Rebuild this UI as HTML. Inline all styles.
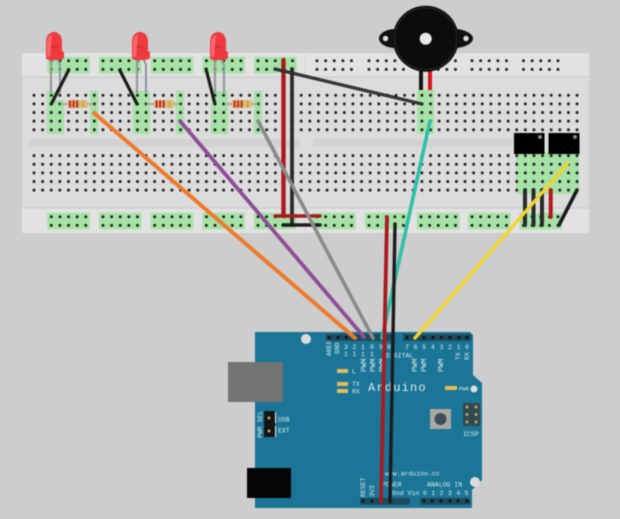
<!DOCTYPE html>
<html><head><meta charset="utf-8"><style>
html,body{margin:0;padding:0;background:#cdcdcd;width:620px;height:519px;overflow:hidden}
svg{display:block;filter:blur(.5px)}
text{font-family:"Liberation Mono",monospace;fill:#dcebf1}
</style></head><body>
<svg width="620" height="519" viewBox="0 0 620 519" xmlns="http://www.w3.org/2000/svg">
<defs>
<pattern id="h" x="29.69" y="91" width="8.62" height="8.62" patternUnits="userSpaceOnUse"><circle cx="4.31" cy="4.31" r="1.5" fill="#242424"/></pattern>
<g id="r" fill="#242424"><circle cx="0" cy="0" r="1.5"/><circle cx="8.62" cy="0" r="1.5"/><circle cx="17.24" cy="0" r="1.5"/><circle cx="25.86" cy="0" r="1.5"/><circle cx="34.48" cy="0" r="1.5"/><circle cx="0" cy="8.7" r="1.5"/><circle cx="8.62" cy="8.7" r="1.5"/><circle cx="17.24" cy="8.7" r="1.5"/><circle cx="25.86" cy="8.7" r="1.5"/><circle cx="34.48" cy="8.7" r="1.5"/></g>
<g id="rg"><rect x="-4" y="-4" width="42.5" height="16.7" fill="#a6e2a6"/><use href="#r"/></g>
<g id="led"><path d="M-3 20V60" stroke="#999" stroke-width="2.2" fill="none"/><path d="M3 25 L6 32V60" stroke="#8f9aa3" stroke-width="2.2" fill="none"/><path d="M-8 24V9C-8 2-4-1 0-1S8 2 8 9V18L10 19V24C10 27 6 27 0 27S-8 27-8 24Z" fill="#ee3a3f"/><path d="M-7 24V9C-7 5-4 2-2 2L-4 24Z" fill="#f6686c"/><text x="-3" y="15" style="font-size:4px;fill:#b52024">RED</text></g>
<g id="res"><path d="M0 0H33.5" stroke="#9aa89a" stroke-width="1.8"/><rect x="7" y="-3.7" width="21" height="7.4" rx="2.5" fill="#e0b878"/><rect x="9" y="-3.7" width="2.2" height="7.4" fill="#c8321e"/><rect x="12.5" y="-3.7" width="2.2" height="7.4" fill="#c8321e"/><rect x="16" y="-3.7" width="2.2" height="7.4" fill="#a8401e"/><rect x="22" y="-3.7" width="2.2" height="7.4" fill="#c9a94a"/></g>
</defs>

<!-- breadboard -->
<rect x="22" y="53" width="567" height="180" fill="#dcdcdc"/>
<rect x="22" y="53" width="567" height="24" fill="#e2e2e2"/>
<rect x="22" y="208" width="567" height="25" fill="#e2e2e2"/>
<path d="M22 77H589M22 208H589" stroke="#cfcfcf" stroke-width="1.5"/>
<path d="M305 53V77M305 208V233" stroke="#d4d4d4" stroke-width="1"/>
<rect x="30" y="139" width="270" height="8" rx="2" fill="#d2d2d2"/>
<rect x="313" y="139" width="200" height="8" rx="2" fill="#d2d2d2"/>

<!-- green main -->
<g fill="#a6e2a6">
<rect x="47" y="91" width="8" height="12"/><rect x="47" y="100" width="17" height="34"/><rect x="90" y="91" width="8" height="43"/>
<rect x="133" y="91" width="17" height="43"/><rect x="176" y="91" width="8" height="43"/>
<rect x="211" y="91" width="17" height="43"/><rect x="254" y="91" width="8" height="43"/>
<rect x="417" y="90" width="17" height="44"/>
<rect x="516" y="152" width="63" height="42"/>
</g>
<rect x="29.69" y="91" width="551.7" height="43.1" fill="url(#h)"/>
<rect x="29.69" y="151.3" width="551.7" height="43.1" fill="url(#h)"/>

<!-- rails -->
<use href="#rg" x="51.3" y="60.7"/><use href="#rg" x="103" y="60.7"/><use href="#rg" x="154.7" y="60.7"/><use href="#rg" x="206.4" y="60.7"/><use href="#rg" x="258" y="60.7"/>
<use href="#r" x="317" y="60.7"/><use href="#r" x="369" y="60.7"/><use href="#r" x="421" y="60.7"/><use href="#r" x="472" y="60.7"/><use href="#r" x="523.5" y="60.7"/>
<use href="#rg" x="51.3" y="216.7"/><use href="#rg" x="103" y="216.7"/><use href="#rg" x="154.7" y="216.7"/><use href="#rg" x="206.4" y="216.7"/><use href="#rg" x="258" y="216.7"/>
<use href="#rg" x="317" y="216.7"/><use href="#rg" x="369" y="216.7"/><use href="#rg" x="421" y="216.7"/><use href="#rg" x="472" y="216.7"/><use href="#rg" x="523.5" y="216.7"/>

<!-- LEDs -->
<use href="#led" x="54" y="33"/><use href="#led" x="140" y="33"/><use href="#led" x="218" y="33"/>

<!-- resistors -->
<use href="#res" x="60" y="104"/><use href="#res" x="146.5" y="104"/><use href="#res" x="224.5" y="104"/>

<!-- ICs -->
<rect x="514" y="133" width="30.5" height="21" fill="#000"/><rect x="548.5" y="133" width="31" height="21" fill="#000"/>
<circle cx="540" cy="137" r="2" fill="#888"/><circle cx="575" cy="137" r="2" fill="#888"/>

<!-- short wires -->
<g fill="none" stroke-linecap="round">
<path d="M68.7 70L51.3 104M119.7 70L137 104M206 69L215 104" stroke="#1c1c1c" stroke-width="3.2"/>
<path d="M525 190V225M533.5 190V225M542 190V225" stroke="#2a2a2a" stroke-width="4"/>
<path d="M550.7 190V217" stroke="#b3161c" stroke-width="4"/>
<path d="M577 190L559 225" stroke="#1c1c1c" stroke-width="3.6"/>
<path d="M283.5 60V216" stroke="#a81a1e" stroke-width="4.4"/>
<path d="M292 69V225" stroke="#2a2a2a" stroke-width="3.8"/>
<path d="M275 216H320" stroke="#a81a1e" stroke-width="3.4"/>
<path d="M283 225H320" stroke="#1c1c1c" stroke-width="3.4"/>
<path d="M275 69L422 104" stroke="#1c1c1c" stroke-width="3.2"/>
<path d="M275 69L422 104" stroke="#777" stroke-width=".6"/>
</g>

<!-- buzzer -->
<rect x="419" y="70" width="4" height="20" fill="#151515"/><rect x="428" y="70" width="4" height="20" fill="#d8141a"/>
<path d="M395 29C387 29 379 33 379 38.5S387 48 395 48ZM455 29C463 29 473 33 473 38.5S463 48 455 48Z" fill="#111"/>
<circle cx="385.5" cy="38.5" r="2.7" fill="#ddd"/><circle cx="466" cy="38.5" r="2.7" fill="#ddd"/>
<circle cx="425.7" cy="38.7" r="33" fill="#0c0c0c"/>
<circle cx="425.7" cy="38.7" r="31" fill="none" stroke="#2a2a2a" stroke-width="1"/>
<circle cx="425.7" cy="38.7" r="6" fill="#e8e8e8"/>

<!-- arduino -->
<path d="M255 332H470L473 335V375L482 383V480L472 490V508H255Z" fill="#1b7596"/>
<rect x="228" y="362" width="55" height="40" fill="#737373"/>
<rect x="247" y="468" width="44" height="30" fill="#040404"/>
<circle cx="306" cy="339" r="5" fill="#dcdcdc"/><circle cx="475" cy="482" r="5" fill="#dcdcdc"/><circle cx="474" cy="389" r="3.5" fill="#dcdcdc"/>
<rect x="326" y="334" width="69" height="7" fill="#1f4a5c"/><rect x="403" y="334" width="68" height="7" fill="#1f4a5c"/>
<rect x="360" y="498" width="50" height="6.5" fill="#1f4a5c"/><rect x="420" y="498" width="50" height="6.5" fill="#1f4a5c"/>
<g fill="#0c1a20"><circle cx="329" cy="337.5" r="1.6"/><circle cx="338" cy="337.5" r="1.6"/><circle cx="346.5" cy="337.5" r="1.6"/><circle cx="407" cy="337.5" r="1.6"/><circle cx="424" cy="337.5" r="1.6"/><circle cx="433" cy="337.5" r="1.6"/><circle cx="441.5" cy="337.5" r="1.6"/><circle cx="450" cy="337.5" r="1.6"/><circle cx="459" cy="337.5" r="1.6"/><circle cx="467" cy="337.5" r="1.6"/>
<circle cx="363" cy="501" r="1.6"/><circle cx="372" cy="501" r="1.6"/><circle cx="424" cy="501" r="1.6"/><circle cx="432" cy="501" r="1.6"/><circle cx="441" cy="501" r="1.6"/><circle cx="450" cy="501" r="1.6"/><circle cx="458" cy="501" r="1.6"/><circle cx="467" cy="501" r="1.6"/></g>
<g fill="#e2bd5c"><rect x="337" y="369" width="11" height="4"/><rect x="337" y="382" width="11" height="4"/><rect x="337" y="389" width="11" height="4"/><rect x="445" y="386" width="12" height="4"/></g>
<rect x="430" y="409" width="21" height="20" fill="#a9a9a4"/><circle cx="440.5" cy="419" r="6" fill="#3e4d58"/>
<rect x="463" y="403" width="17" height="23" fill="#2f4a52"/>
<g fill="#c9a35a"><circle cx="467" cy="407" r="1.5"/><circle cx="476" cy="407" r="1.5"/><circle cx="467" cy="414.5" r="1.5"/><circle cx="476" cy="414.5" r="1.5"/><circle cx="467" cy="422" r="1.5"/><circle cx="476" cy="422" r="1.5"/></g>
<rect x="264" y="411" width="11" height="26" fill="#151515"/><circle cx="269" cy="418" r="1.5" fill="#c9a35a"/><circle cx="269" cy="431" r="1.5" fill="#c9a35a"/>
<path d="M275.5 412V423M275.5 426V437" stroke="#e8f2f6" stroke-width="1"/>

<g style="font-size:6.5px" text-anchor="middle">
<text x="346" y="349">3</text><text x="354.5" y="349">2</text><text x="363" y="349">1</text><text x="372" y="349">0</text><text x="381" y="349">9</text><text x="389" y="349">8</text>
<text x="346" y="356">1</text><text x="354.5" y="356">1</text><text x="363" y="356">1</text><text x="372" y="356">1</text>
<text x="407" y="349">7</text><text x="415.6" y="349">6</text><text x="424.2" y="349">5</text><text x="432.8" y="349">4</text><text x="441.4" y="349">3</text><text x="450" y="349">2</text><text x="458.6" y="349">1</text><text x="467" y="349">0</text>
</g>
<g style="font-size:6.5px">
<text x="386" y="357.5">DIGITAL</text>
<text x="352" y="373.5">L</text><text x="352" y="386">TX</text><text x="352" y="393.5">RX</text>
<text x="459" y="390.5" style="font-size:5.5px">PWR</text>
<text x="463" y="436">ICSP</text>
<text x="278" y="421.5">USB</text><text x="278" y="432.5">EXT</text>
<text x="385" y="475.5">www.arduino.cc</text>
<text x="382" y="486.5">POWER</text><text x="427" y="486.5">ANALOG IN</text>
<text x="392" y="495">Gnd Vin</text>
<text x="423" y="495" letter-spacing="4.4">012345</text>
<text transform="translate(331,356) rotate(-90)">AREF</text>
<text transform="translate(339,354) rotate(-90)">GND</text>
<text transform="translate(366,372) rotate(-90)" style="font-size:7.5px">PWM</text><text transform="translate(375,372) rotate(-90)" style="font-size:7.5px">PWM</text><text transform="translate(384,372) rotate(-90)" style="font-size:7.5px">PWM</text>
<text transform="translate(417,372) rotate(-90)" style="font-size:7.5px">PWM</text><text transform="translate(426,372) rotate(-90)" style="font-size:7.5px">PWM</text><text transform="translate(443,372) rotate(-90)" style="font-size:7.5px">PWM</text>
<text transform="translate(460,360) rotate(-90)">TX</text><text transform="translate(469,360) rotate(-90)">RX</text>
<text transform="translate(262,438) rotate(-90)">PWR SEL</text>
<text transform="translate(365,497) rotate(-90)">RESET</text>
<text transform="translate(374,497) rotate(-90)">3V3</text>
</g>
<text x="368" y="391" style="font-size:12px;letter-spacing:1.2px">Arduino</text>

<!-- long wires -->
<g fill="none" stroke-linecap="round">
<path d="M94 113L355 338" stroke="#ee7a2c" stroke-width="4"/>
<path d="M180 121L364 337" stroke="#8e4e96" stroke-width="3.8"/>
<path d="M258 121L373 338" stroke="#8a8a8a" stroke-width="3.6"/>
<path d="M430 121L382 338" stroke="#2ebfa8" stroke-width="3.6"/>
<path d="M568 163L415 338" stroke="#f2d52e" stroke-width="3.4"/>
<path d="M395 224L390 502" stroke="#1c1c1c" stroke-width="3.4"/>
<path d="M387 217L381 502" stroke="#a81a1e" stroke-width="3.8"/>
</g>
</svg>
</body></html>
